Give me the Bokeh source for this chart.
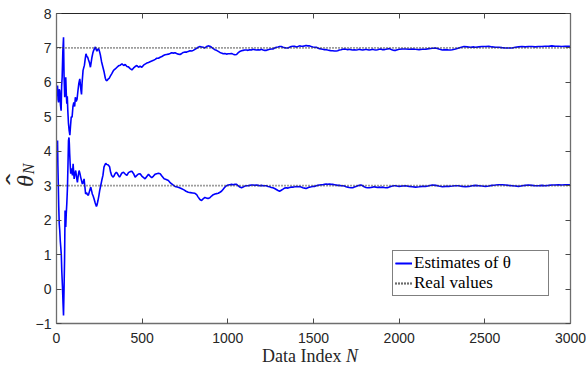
import numpy as np
from bokeh.plotting import figure
from bokeh.models import (Range1d, FixedTicker, LinearAxis, Legend, LegendItem, Div,
                          CustomLabelingPolicy)
from bokeh.layouts import row, column
from bokeh.embed import file_html
from bokeh.resources import INLINE

# ---- data ----
upper_n = [3, 6, 9, 12, 16, 19, 23, 27, 30, 33, 37, 41, 44, 48, 51, 54, 57, 60, 63, 66, 70, 74, 78, 82, 86, 91, 96, 101, 106, 110, 115, 120, 125, 130, 136, 140, 143, 146, 149, 155, 163, 168, 172, 177, 182, 187, 192, 198, 203, 207, 212, 217, 222, 227, 232, 236, 241, 246, 251, 256, 263, 271, 278, 285, 290, 295, 302, 308, 314, 322, 333, 343, 353, 362, 372, 382, 392, 401, 411, 420, 430, 440, 450, 459, 469, 479, 488, 498, 508, 517, 527, 537, 546, 556, 566, 576, 585, 595, 605, 615, 624, 634, 643, 653, 663, 672, 682, 692, 701, 711, 721, 731, 740, 750, 760, 769, 779, 789, 798, 808, 818, 827, 837, 847, 856, 866, 876, 885, 895, 905, 915, 924, 934, 944, 954, 963, 973, 983, 992, 1002, 1012, 1022, 1031, 1041, 1051, 1060, 1070, 1080, 1089, 1099, 1109, 1118, 1128, 1138, 1147, 1157, 1167, 1177, 1186, 1196, 1206, 1215, 1225, 1235, 1244, 1254, 1263, 1273, 1283, 1293, 1302, 1312, 1322, 1331, 1341, 1351, 1360, 1370, 1380, 1390, 1399, 1409, 1419, 1428, 1438, 1448, 1457, 1467, 1477, 1487, 1496, 1506, 1516, 1525, 1535, 1545, 1554, 1564, 1574, 1583, 1593, 1603, 1612, 1622, 1632, 1641, 1651, 1661, 1670, 1680, 1690, 1700, 1709, 1719, 1729, 1738, 1748, 1758, 1767, 1777, 1787, 1796, 1806, 1816, 1825, 1835, 1845, 1854, 1864, 1874, 1883, 1893, 1903, 1912, 1922, 1932, 1942, 1951, 1961, 1971, 1980, 1990, 2000, 2019, 2038, 2058, 2077, 2096, 2116, 2135, 2155, 2174, 2194, 2213, 2232, 2252, 2271, 2290, 2300, 2310, 2329, 2348, 2368, 2378, 2397, 2416, 2436, 2446, 2465, 2484, 2504, 2523, 2542, 2562, 2581, 2600, 2620, 2639, 2659, 2678, 2697, 2717, 2736, 2755, 2775, 2794, 2813, 2833, 2852, 2872, 2891, 2910, 2930, 2949, 2969, 2988, 3000]
upper_est = [5.6, 5.91, 5.5, 5.42, 5.8, 5.76, 5.35, 5.18, 5.9, 6.15, 6.9, 7.31, 6.2, 5.57, 5.9, 6.15, 5.7, 5.38, 5.6, 5.18, 4.8, 4.6, 4.47, 4.75, 5.0, 4.99, 5.3, 5.42, 5.3, 5.57, 5.45, 5.51, 5.75, 5.96, 6.1, 5.9, 5.76, 5.65, 5.96, 6.35, 6.5, 6.7, 6.83, 6.75, 6.73, 6.65, 6.58, 6.44, 6.6, 6.73, 6.85, 6.93, 6.98, 7.03, 6.95, 6.91, 6.96, 6.98, 6.9, 6.8, 6.6, 6.44, 6.3, 6.12, 6.06, 6.05, 6.1, 6.12, 6.18, 6.25, 6.35, 6.39, 6.44, 6.48, 6.5, 6.54, 6.49, 6.52, 6.46, 6.45, 6.4, 6.36, 6.42, 6.46, 6.49, 6.44, 6.47, 6.44, 6.5, 6.53, 6.56, 6.58, 6.6, 6.62, 6.64, 6.67, 6.7, 6.7, 6.73, 6.75, 6.78, 6.8, 6.81, 6.82, 6.84, 6.86, 6.85, 6.86, 6.84, 6.82, 6.81, 6.84, 6.87, 6.88, 6.88, 6.9, 6.92, 6.91, 6.93, 6.96, 6.99, 7.02, 7.04, 7.03, 7.02, 7.0, 7.04, 7.06, 7.05, 7.02, 6.98, 6.95, 6.93, 6.9, 6.87, 6.85, 6.83, 6.84, 6.82, 6.83, 6.83, 6.84, 6.82, 6.8, 6.81, 6.86, 6.9, 6.92, 6.93, 6.94, 6.94, 6.93, 6.95, 6.94, 6.96, 6.95, 6.94, 6.95, 6.94, 6.96, 6.94, 6.93, 6.93, 6.95, 6.96, 6.97, 6.97, 7.0, 7.02, 7.03, 7.04, 7.04, 7.02, 7.01, 7.0, 7.0, 7.02, 7.04, 7.05, 7.05, 7.03, 7.04, 7.06, 7.05, 7.05, 7.06, 7.07, 7.06, 7.06, 7.04, 7.03, 7.02, 7.02, 7.0, 6.98, 6.97, 6.96, 6.95, 6.95, 6.94, 6.93, 6.92, 6.92, 6.91, 6.91, 6.92, 6.94, 6.95, 6.96, 6.97, 6.96, 6.95, 6.96, 6.95, 6.94, 6.95, 6.94, 6.95, 6.96, 6.95, 6.94, 6.95, 6.96, 6.95, 6.94, 6.95, 6.96, 6.95, 6.94, 6.95, 6.96, 6.97, 6.95, 6.95, 6.96, 6.97, 6.98, 6.96, 6.94, 6.93, 6.93, 6.95, 6.96, 6.97, 6.97, 6.96, 6.97, 6.96, 6.95, 6.96, 6.96, 6.98, 6.99, 7.0, 6.97, 6.94, 6.95, 6.94, 6.94, 6.95, 6.97, 7.0, 7.03, 7.04, 7.03, 7.02, 7.03, 7.02, 7.03, 7.04, 7.04, 7.05, 7.03, 7.02, 7.02, 7.01, 7.0, 7.0, 7.0, 7.02, 7.03, 7.04, 7.03, 7.04, 7.04, 7.03, 7.04, 7.04, 7.05, 7.05, 7.06, 7.05, 7.05, 7.04, 7.05, 7.05, 7.05]

lower_n = [3, 6, 8, 10, 13, 16, 19, 22, 25, 28, 31, 35, 38, 41, 44, 47, 50, 52, 54, 57, 60, 62, 64, 67, 70, 73, 75, 77, 80, 83, 86, 89, 93, 97, 100, 103, 107, 112, 117, 122, 127, 132, 137, 141, 146, 151, 156, 161, 165, 170, 175, 180, 186, 193, 200, 205, 209, 214, 219, 226, 233, 237, 242, 247, 252, 258, 264, 271, 277, 282, 287, 293, 302, 310, 316, 322, 329, 335, 342, 349, 355, 361, 368, 374, 380, 391, 401, 411, 420, 430, 440, 450, 459, 469, 478, 488, 498, 507, 517, 527, 537, 546, 556, 566, 575, 585, 595, 605, 615, 628, 640, 653, 665, 678, 692, 705, 718, 731, 744, 756, 769, 782, 795, 808, 818, 827, 837, 847, 856, 866, 876, 885, 895, 905, 915, 925, 934, 944, 954, 963, 973, 983, 992, 1002, 1012, 1022, 1031, 1041, 1051, 1060, 1070, 1080, 1089, 1099, 1109, 1118, 1128, 1138, 1147, 1157, 1167, 1177, 1186, 1196, 1206, 1215, 1225, 1235, 1244, 1254, 1263, 1273, 1283, 1293, 1302, 1312, 1322, 1331, 1341, 1351, 1360, 1370, 1380, 1390, 1399, 1409, 1419, 1428, 1438, 1448, 1457, 1467, 1477, 1487, 1496, 1506, 1516, 1525, 1535, 1545, 1554, 1564, 1574, 1583, 1593, 1603, 1612, 1622, 1632, 1641, 1651, 1661, 1670, 1680, 1690, 1700, 1709, 1719, 1729, 1738, 1748, 1758, 1767, 1777, 1787, 1796, 1806, 1816, 1826, 1835, 1845, 1854, 1864, 1874, 1884, 1893, 1903, 1912, 1922, 1932, 1942, 1951, 1961, 1971, 1980, 2000, 2019, 2038, 2058, 2077, 2096, 2116, 2135, 2155, 2174, 2194, 2213, 2232, 2252, 2271, 2290, 2310, 2329, 2348, 2368, 2387, 2407, 2426, 2446, 2465, 2484, 2504, 2523, 2542, 2562, 2581, 2600, 2620, 2639, 2659, 2678, 2697, 2717, 2736, 2755, 2775, 2794, 2813, 2833, 2852, 2872, 2891, 2910, 2930, 2949, 2969, 2988, 3000]
lower_est = [4.2, 4.31, 3.6, 3.15, 2.4, 1.9, 1.7, 1.4, 1.21, 1.0, 0.5, 0.05, -0.4, -0.77, 0.0, 0.83, 2.28, 2.0, 1.8, 2.2, 2.47, 2.7, 2.96, 3.6, 4.31, 4.4, 4.2, 3.93, 3.6, 3.35, 3.5, 3.45, 3.3, 3.64, 3.4, 3.2, 3.35, 3.44, 3.25, 3.1, 3.3, 3.44, 3.35, 3.25, 3.15, 3.05, 3.1, 3.2, 3.0, 2.76, 2.8, 2.75, 2.72, 2.85, 2.96, 2.85, 2.76, 2.7, 2.62, 2.5, 2.4, 2.45, 2.57, 2.7, 2.86, 3.0, 3.15, 3.3, 3.54, 3.6, 3.65, 3.62, 3.6, 3.55, 3.39, 3.3, 3.25, 3.28, 3.35, 3.39, 3.36, 3.3, 3.25, 3.3, 3.36, 3.39, 3.34, 3.3, 3.38, 3.41, 3.42, 3.35, 3.25, 3.3, 3.34, 3.35, 3.28, 3.24, 3.2, 3.27, 3.33, 3.28, 3.23, 3.28, 3.33, 3.35, 3.36, 3.35, 3.28, 3.2, 3.18, 3.15, 3.08, 3.03, 2.98, 2.96, 2.94, 2.91, 2.88, 2.84, 2.81, 2.8, 2.79, 2.78, 2.74, 2.67, 2.6, 2.57, 2.62, 2.66, 2.64, 2.63, 2.65, 2.7, 2.74, 2.76, 2.77, 2.78, 2.81, 2.84, 2.9, 2.96, 3.0, 3.02, 3.03, 3.04, 3.03, 3.04, 3.04, 3.0, 2.96, 2.94, 2.96, 2.99, 3.0, 3.0, 3.01, 3.02, 3.02, 3.01, 3.02, 3.01, 3.0, 3.01, 3.0, 3.0, 3.0, 2.98, 2.97, 2.95, 2.94, 2.92, 2.89, 2.86, 2.84, 2.87, 2.9, 2.93, 2.94, 2.93, 2.95, 2.96, 2.96, 2.97, 2.98, 2.97, 2.98, 2.96, 2.94, 2.93, 2.92, 2.94, 2.96, 2.97, 2.98, 2.98, 3.0, 3.01, 3.02, 3.03, 3.03, 3.04, 3.05, 3.04, 3.05, 3.04, 3.04, 3.03, 3.02, 3.01, 3.01, 3.0, 3.0, 2.99, 2.97, 2.96, 2.95, 2.94, 2.94, 2.96, 2.98, 3.0, 3.01, 3.02, 3.0, 2.97, 2.95, 2.94, 2.94, 2.95, 2.96, 2.97, 2.96, 2.95, 2.96, 2.95, 2.96, 2.95, 2.94, 2.94, 2.96, 2.98, 2.99, 3.0, 3.0, 2.98, 2.99, 3.0, 2.98, 2.97, 2.96, 2.97, 2.98, 2.98, 3.0, 3.02, 3.01, 2.99, 2.97, 2.98, 2.98, 2.99, 3.0, 3.0, 2.98, 2.97, 2.98, 3.0, 3.01, 3.0, 2.99, 2.98, 2.99, 3.01, 3.02, 3.03, 3.03, 3.02, 3.01, 3.0, 2.99, 2.98, 3.0, 3.01, 3.02, 3.01, 3.0, 3.0, 3.01, 3.0, 3.01, 3.02, 3.02, 3.03, 3.02, 3.03, 3.03, 3.03]

real_n = [0, 3000]
real_upper = [7, 7]
real_lower = [3, 3]

x_ticks = [0, 500, 1000, 1500, 2000, 2500, 3000]
y_ticks = [-1, 0, 1, 2, 3, 4, 5, 6, 7, 8]

legend_labels = ["Estimates of \u03b8", "Real values"]

# ---- sizes ----
YT_W = 29
P_W = 586 - YT_W
P_H = 348
XT_H = 367 - P_H

p = figure(width=P_W, height=P_H, output_backend="svg", toolbar_location=None,
           x_range=Range1d(0, 3000), y_range=Range1d(-1, 8),
           min_border_left=27, min_border_right=16, min_border_top=13,
           min_border_bottom=25, background_fill_color="white",
           border_fill_color="white", border_fill_alpha=0, margin=0)
p.grid.visible = False
p.outline_line_color = None
p.xaxis.axis_label = None
p.yaxis.axis_label = None

BLUE = "#0000FF"
DOT = "#3a3a3a"

r_up = p.line(upper_n, upper_est, line_color=BLUE, line_width=1.6)
r_lo = p.line(lower_n, lower_est, line_color=BLUE, line_width=1.6)
d_up = p.line(real_n, real_upper, line_color=DOT, line_width=1.8, line_dash="1 2")
d_lo = p.line(real_n, real_lower, line_color=DOT, line_width=1.8, line_dash="1 2")

hide_labels = CustomLabelingPolicy(code="""
try {
  for (const i of Array.from(indices)) { indices.unset(i) }
} catch (e) {}
return indices
""")

def style(ax, ticks, labels=True):
    ax.ticker = FixedTicker(ticks=ticks)
    ax.major_tick_in = 5
    ax.major_tick_out = 0
    ax.minor_tick_line_color = None
    ax.axis_line_color = "#6e6e6e"
    ax.axis_line_width = 1.3
    ax.major_tick_line_color = "#4a4a4a"
    ax.major_tick_line_width = 1
    if labels:
        ax.major_label_text_font = "Liberation Sans"
        ax.major_label_text_font_size = "14px"
        ax.major_label_text_color = "#262626"
    else:
        ax.major_label_policy = hide_labels
        ax.major_label_text_font_size = "1px"
        ax.major_label_standoff = 0

style(p.xaxis[0], x_ticks)
p.xaxis[0].major_label_standoff = 9
style(p.yaxis[0], y_ticks)
p.yaxis[0].major_label_standoff = 5

top_ax = LinearAxis()
style(top_ax, x_ticks, labels=False)
top_ax.axis_line_color = "#262626"
top_ax.axis_line_width = 1
p.add_layout(top_ax, "above")
right_ax = LinearAxis()
style(right_ax, y_ticks, labels=False)
p.add_layout(right_ax, "right")

# ---- legend ----
legend = Legend(items=[LegendItem(label=legend_labels[0], renderers=[r_up, r_lo]),
                       LegendItem(label=legend_labels[1], renderers=[d_up, d_lo])],
                location=(336, 27), label_text_font="Liberation Serif",
                label_text_font_size="17px", label_text_color="black",
                glyph_width=17, glyph_height=16, label_height=16,
                label_standoff=2, spacing=0, padding=2, label_width=132,
                border_line_color="black", border_line_width=1,
                background_fill_color="white", background_fill_alpha=1, margin=0)
p.add_layout(legend)

# ---- axis titles (HTML text beside the canvas) ----
y_title = Div(width=YT_W, height=P_H, margin=0, styles={"overflow": "visible"}, text=(
    f'<div style="position:relative;width:{YT_W}px;height:{P_H}px;">'
    '<div style="position:absolute;left:-25px;top:169px;width:100px;height:24px;'
    'transform:rotate(-90deg);transform-origin:50px 12px;font-family:\'Liberation Serif\';'
    'color:#262626;white-space:nowrap;line-height:24px;padding-left:44px;box-sizing:border-box;">'
    '<span style="position:relative;display:inline-block;font-style:italic;font-size:24px;line-height:24px;">\u03b8'
    '<span style="position:absolute;left:2px;top:-8px;font-style:normal;font-family:\'DejaVu Sans\';'
    'font-size:22px;line-height:22px;display:inline-block;transform:scaleX(1.7);">\u02c6</span></span>'
    '<span style="font-style:italic;font-size:16px;position:relative;top:1px;padding-left:1px;">N</span>'
    '</div></div>'))

x_title = Div(width=586, height=XT_H, margin=0, text=(
    f'<div style="position:relative;width:586px;height:{XT_H}px;">'
    '<div style="position:absolute;left:262px;top:-1px;font-family:\'Liberation Serif\';'
    'font-size:18px;line-height:18px;color:#262626;white-space:nowrap;">'
    'Data Index <i>N</i></div></div>'))

layout = column(row(y_title, p), x_title)

open("out.html", "w").write(file_html(layout, INLINE))
